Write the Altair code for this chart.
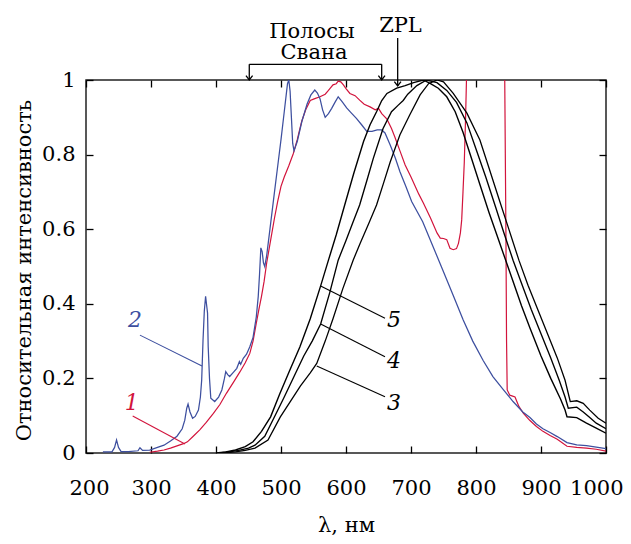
import altair as alt
import pandas as pd

# ---------------- data ----------------
blue_nm = [226, 240, 244, 247, 250, 254, 265, 280, 283, 287, 298, 310, 320, 330, 340, 348, 352, 355, 357, 360,
           364, 368, 373, 376, 378, 380, 382, 384, 386, 387, 388, 390, 392, 398, 404, 409, 413, 415, 418, 421,
           426, 432, 436, 438, 442, 447, 452, 457, 462, 465, 467, 469, 471, 473, 475, 478, 483, 490, 495, 500,
           505, 508, 510, 512, 514, 516, 518, 520, 525, 532, 540, 546, 552, 556, 560, 564, 568, 573, 578, 583,
           588, 594, 601, 608, 616, 624, 632, 640, 648, 655, 660, 668, 676, 683, 692, 701, 718, 734, 749, 765,
           780, 795, 811, 826, 842, 857, 872, 883, 893, 903, 914, 925, 940, 955, 970, 985, 1000]
blue_val = [0.003, 0.003, 0.015, 0.035, 0.015, 0.004, 0.004, 0.006, 0.014, 0.007, 0.008, 0.015, 0.021, 0.032, 0.045,
            0.065, 0.088, 0.12, 0.131, 0.11, 0.093, 0.098, 0.115, 0.15, 0.196, 0.30, 0.38, 0.42, 0.39, 0.375,
            0.285, 0.2, 0.147, 0.138, 0.15, 0.169, 0.2, 0.218, 0.21, 0.205, 0.215, 0.227, 0.245, 0.238, 0.254,
            0.265, 0.285, 0.31, 0.365, 0.42, 0.48, 0.55, 0.54, 0.51, 0.50, 0.53, 0.60, 0.70, 0.77, 0.84,
            0.915, 0.96, 0.99, 1.0, 0.97, 0.90, 0.83, 0.81, 0.835, 0.888, 0.935, 0.96, 0.973, 0.965, 0.95, 0.92,
            0.90, 0.91, 0.924, 0.94, 0.955, 0.942, 0.925, 0.912, 0.897, 0.88, 0.862, 0.862, 0.866, 0.866, 0.858,
            0.826, 0.79, 0.754, 0.715, 0.674, 0.62, 0.553, 0.49, 0.422, 0.358, 0.30, 0.248, 0.205, 0.17, 0.138,
            0.11, 0.095, 0.078, 0.065, 0.055, 0.044, 0.028, 0.022, 0.02, 0.016, 0.012]

red_nm = [298, 310, 320, 330, 340, 350, 356, 365, 375, 385, 396, 406, 416, 427, 437, 445, 452, 457, 462, 466,
          470, 474, 478, 485, 490, 495, 500, 505, 512, 519, 525, 532, 538, 545, 552, 560, 568, 573, 580, 585,
          588, 592, 596, 600, 606, 614, 621, 628, 637, 645, 650, 655, 663, 670, 675, 683, 691, 700, 712, 719,
          730, 740, 745, 750, 755, 760, 765, 770, 773, 776, 778, 780, 782, 784, 786, 790, 840, 844, 846, 847,
          848, 852, 860, 866, 873, 883, 893, 903, 914, 925, 940, 955, 970, 985, 1000]
red_val = [0.002, 0.005, 0.008, 0.013, 0.019, 0.025, 0.03, 0.045, 0.062, 0.082, 0.106, 0.13, 0.16, 0.19, 0.218,
           0.242, 0.267, 0.30, 0.348, 0.385, 0.42, 0.46, 0.51, 0.58, 0.63, 0.675, 0.715, 0.74, 0.77, 0.803,
           0.84, 0.89, 0.92, 0.945, 0.95, 0.955, 0.962, 0.972, 0.987, 0.99, 0.997, 0.995, 0.987, 0.977, 0.964,
           0.958, 0.946, 0.935, 0.928, 0.92, 0.924, 0.91, 0.895, 0.87, 0.848, 0.81, 0.772, 0.74, 0.694, 0.67,
           0.63, 0.59, 0.576, 0.575, 0.572, 0.549, 0.545, 0.548, 0.562, 0.59, 0.625, 0.70, 0.78, 0.90, 1.05,
           1.3, 1.3, 1.05, 0.6, 0.3, 0.169, 0.155, 0.15, 0.125, 0.106, 0.087, 0.071, 0.058, 0.047, 0.037,
           0.018, 0.015, 0.013, 0.01, 0.005]

c5_nm = [400, 415, 430, 445, 457, 470, 484, 498, 513, 529, 545, 561, 573, 585, 598, 612, 627, 637, 647, 655,
         663, 678, 691, 704, 719, 730, 742, 755, 768, 780, 793, 806, 820, 832, 845, 858, 870, 883, 900, 915,
         930, 937, 940, 955, 970, 985, 1000]
c5_val = [0.0, 0.003, 0.008, 0.017, 0.03, 0.058, 0.097, 0.158, 0.22, 0.284, 0.36, 0.448, 0.517, 0.585, 0.665,
          0.75, 0.835, 0.88, 0.915, 0.945, 0.964, 0.978, 0.985, 0.993, 1.0, 0.99, 0.978, 0.955, 0.915, 0.86,
          0.79, 0.72, 0.645, 0.585, 0.52, 0.455, 0.395, 0.335, 0.26, 0.2, 0.145, 0.115, 0.097, 0.095, 0.08,
          0.067, 0.053]

c4_nm = [405, 420, 435, 450, 460, 475, 490, 505, 520, 535, 548, 561, 575, 588, 600, 611, 621, 632, 642, 657,
         670, 680, 688, 695, 709, 724, 740, 755, 770, 786, 800, 815, 830, 843, 857, 870, 885, 900, 915, 928,
         937, 942, 955, 965, 975, 985, 1000]
c4_val = [0.0, 0.003, 0.007, 0.013, 0.021, 0.045, 0.097, 0.15, 0.205, 0.26, 0.30, 0.346, 0.43, 0.517, 0.57,
          0.62, 0.665, 0.73, 0.79, 0.87, 0.915, 0.932, 0.945, 0.962, 0.985, 1.0, 0.993, 0.972, 0.94, 0.885,
          0.815, 0.74, 0.66, 0.59, 0.517, 0.455, 0.385, 0.32, 0.255, 0.195, 0.15, 0.12, 0.123, 0.11, 0.095,
          0.08, 0.065]

c3_nm = [410, 430, 445, 460, 480, 499, 515, 530, 545, 555, 568, 580, 595, 611, 622, 635, 647, 658, 668, 683,
         698, 714, 727, 740, 750, 765, 786, 806, 820, 835, 850, 866, 880, 895, 910, 925, 937, 945, 955, 965,
         975, 988, 1000]
c3_val = [0.0, 0.003, 0.007, 0.013, 0.035, 0.097, 0.14, 0.18, 0.215, 0.24, 0.30, 0.36, 0.44, 0.517, 0.563,
          0.615, 0.665, 0.725, 0.78, 0.853, 0.906, 0.96, 0.99, 1.0, 0.995, 0.964, 0.911, 0.839, 0.764, 0.683,
          0.603, 0.517, 0.45, 0.385, 0.32, 0.255, 0.195, 0.138, 0.14, 0.133, 0.115, 0.093, 0.08]

# curve labels and their leader lines
num_text = ["2", "1", "5", "4", "3"]
num_x = [275.4, 270.3, 673.8, 673.8, 673.8]
num_y = [0.3378, 0.1153, 0.3387, 0.227, 0.1153]
lead_x1 = [283.0, 271.8, 561.0, 561.0, 555.0]
lead_y1 = [0.316, 0.099, 0.448, 0.346, 0.233]
lead_x2 = [378.5, 352.3, 660.0, 660.0, 660.0]
lead_y2 = [0.233, 0.024, 0.361, 0.258, 0.151]

# annotations above the frame
note_text = ["Полосы", "Свана", "ZPL"]
note_x = [547.7, 550.8, 683.8]
note_y = [1.1139, 1.0550, 1.1295]
brk_x1 = [451.2, 451.2, 654.9, 679.5]
brk_y1 = [1.0421, 1.0421, 1.0421, 1.1126]
brk_x2 = [654.9, 451.2, 654.9, 679.5]
brk_y2 = [1.0421, 1.0, 1.0, 0.984]
tip_x = [451.2, 654.9, 679.5]
tip_y = [1.0, 1.0, 0.984]

x_ticks = [200, 300, 400, 500, 600, 700, 800, 900, 1000]
y_ticks = [0, 0.2, 0.4, 0.6, 0.8, 1]

BLUE = "#3d4f9f"
RED = "#d2143c"
FONT = "DejaVu Serif"

# ---------------- build tables ----------------
rows = []
for name, xs_, ys_ in [("1", red_nm, red_val), ("2", blue_nm, blue_val),
                       ("3", c3_nm, c3_val), ("4", c4_nm, c4_val), ("5", c5_nm, c5_val)]:
    for a, b in zip(xs_, ys_):
        rows.append({"nm": a, "val": b, "series": name})
df = pd.DataFrame(rows)

num_color = [BLUE, RED, "black", "black", "black"]
nums_df = pd.DataFrame({"x": num_x, "y": num_y, "t": num_text, "c": num_color})
lead_df = pd.DataFrame({"x": lead_x1, "y": lead_y1, "x2": lead_x2, "y2": lead_y2, "c": num_color})
notes_df = pd.DataFrame({"x": note_x, "y": note_y, "t": note_text})
brk_df = pd.DataFrame({"x": brk_x1, "y": brk_y1, "x2": brk_x2, "y2": brk_y2})
tip_df = pd.DataFrame({"x": tip_x, "y": tip_y})

xs = alt.Scale(domain=[200, 1000], nice=False, zero=False)
ys = alt.Scale(domain=[0, 1], nice=False, zero=False)

tick_common = dict(tickSize=7, offset=-7, domain=False, grid=False, ticks=True,
                   tickColor="black", tickWidth=1.3)

x_bottom = alt.Axis(orient="bottom", values=x_ticks, format="d", labelFontSize=21, labelPadding=41.5,
                    labelBaseline="alphabetic", labelFlush=True, labelFlushOffset=17, labelOverlap=False,
                    title="λ, нм", titleFontSize=21, titleY=85, titleBaseline="alphabetic",
                    **tick_common)
y_left = alt.Axis(orient="left", values=y_ticks, format=".1~f", labelFontSize=21, labelPadding=11,
                  labelFlush=False, labelOverlap=False,
                  title="Относительная интенсивность", titleFontSize=21, titleX=-63, titleY=190,
                  titleBaseline="alphabetic", **tick_common)
x_top = alt.Axis(orient="top", values=x_ticks, labels=False, title="", **tick_common)
y_right = alt.Axis(orient="right", values=y_ticks, labels=False, title="", **tick_common)

lines = alt.Chart(df).mark_line(clip=True).encode(
    x=alt.X("nm:Q", scale=xs, axis=x_bottom),
    y=alt.Y("val:Q", scale=ys, axis=y_left),
    color=alt.Color("series:N", scale=alt.Scale(domain=["1", "2", "3", "4", "5"],
                                                range=[RED, BLUE, "black", "black", "black"]), legend=None),
    strokeWidth=alt.StrokeWidth("series:N", scale=alt.Scale(domain=["1", "2", "3", "4", "5"],
                                                            range=[1.2, 1.4, 1.5, 1.5, 1.5]), legend=None),
)

leaders = alt.Chart(lead_df).mark_rule(strokeWidth=1.1).encode(
    x=alt.X("x:Q", scale=xs, axis=None), y=alt.Y("y:Q", scale=ys, axis=None),
    x2="x2:Q", y2="y2:Q", color=alt.Color("c:N", scale=None),
)

bracket = alt.Chart(brk_df).mark_rule(strokeWidth=1.3, color="black").encode(
    x=alt.X("x:Q", scale=xs, axis=None), y=alt.Y("y:Q", scale=ys, axis=None),
    x2="x2:Q", y2="y2:Q",
)

tips = alt.Chart(tip_df).mark_point(shape="M-1,-1.3L0,0L1,-1.3", size=44, filled=False,
                                    stroke="black", strokeWidth=1.3, opacity=1).encode(
    x=alt.X("x:Q", scale=xs, axis=None), y=alt.Y("y:Q", scale=ys, axis=None),
)

nums = alt.Chart(nums_df).mark_text(font=FONT, fontSize=22, fontStyle="italic",
                                    baseline="alphabetic", align="center").encode(
    x=alt.X("x:Q", scale=xs, axis=x_top), y=alt.Y("y:Q", scale=ys, axis=y_right),
    text="t:N", color=alt.Color("c:N", scale=None),
)

notes = alt.Chart(notes_df).mark_text(font=FONT, fontSize=21, baseline="alphabetic",
                                      align="center", color="black").encode(
    x=alt.X("x:Q", scale=xs, axis=None), y=alt.Y("y:Q", scale=ys, axis=None), text="t:N",
)

chart = alt.layer(lines, leaders, bracket, tips, nums, notes).resolve_axis(
    x="independent", y="independent"
).properties(
    width=520, height=373,
    padding={"left": 78, "top": 72, "right": 17, "bottom": 83},
    autosize=alt.AutoSizeParams(type="none"),
).configure_view(
    stroke="#222222", strokeWidth=1.5
).configure_axis(
    labelFont=FONT, titleFont=FONT, labelColor="black", titleColor="black", titleFontWeight="normal"
)

chart.save("out.html", embed_options={"renderer": "svg", "actions": False})
